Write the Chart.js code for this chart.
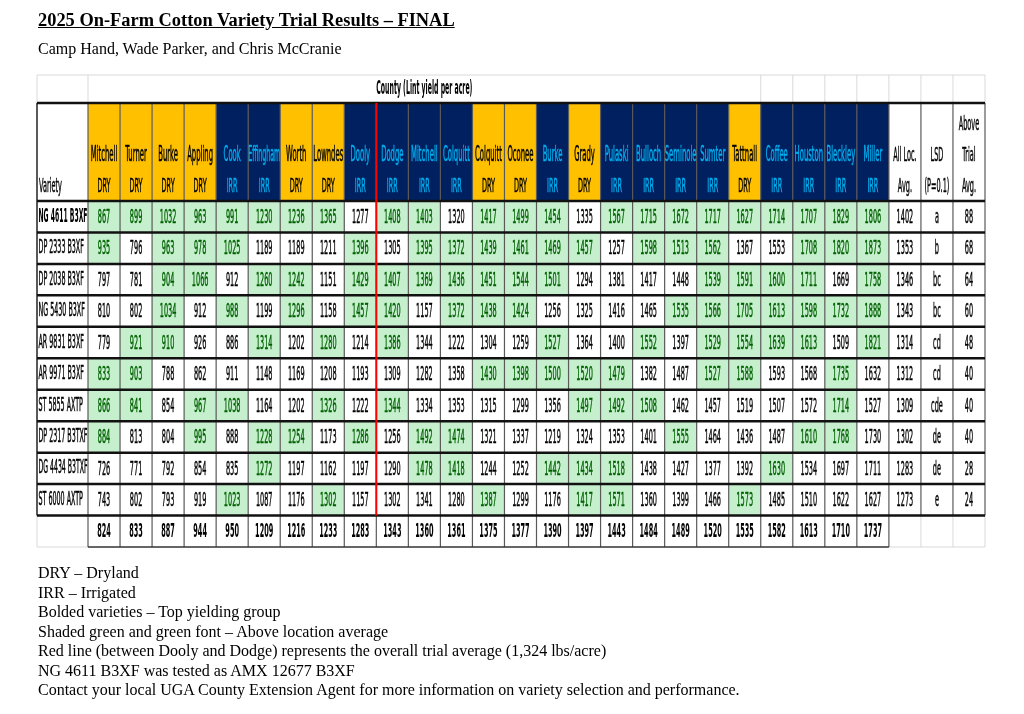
<!DOCTYPE html>
<html>
<head>
<meta charset="utf-8">
<script src="https://cdn.jsdelivr.net/npm/chart.js@4.4.0/dist/chart.umd.min.js"></script>
<style>
  body { margin: 0; background: #fff; }
  #wrap { position: absolute; left: 0; top: 0; width: 1024px; height: 714px; }
  .txt { position: absolute; left: 38px; font-family: 'Liberation Serif', 'Times New Roman', serif; color: #000; white-space: nowrap; }
  #title { top: 10px; font-size: 18.4px; font-weight: bold; text-decoration: underline; line-height: 1.15; }
  #sub { top: 40px; font-size: 16px; line-height: 1.15; }
  #notes { top: 563px; font-size: 16px; line-height: 19.5px; }
</style>
</head>
<body>
<div id="wrap"><canvas id="trialTable"></canvas></div>
<div class="txt" id="title">2025 On-Farm Cotton Variety Trial Results – FINAL</div>
<div class="txt" id="sub">Camp Hand, Wade Parker, and Chris McCranie</div>
<div class="txt" id="notes">
  DRY – Dryland<br>
  IRR – Irrigated<br>
  Bolded varieties – Top yielding group<br>
  Shaded green and green font – Above location average<br>
  Red line (between Dooly and Dodge) represents the overall trial average (1,324 lbs/acre)<br>
  NG 4611 B3XF was tested as AMX 12677 B3XF<br>
  Contact your local UGA County Extension Agent for more information on variety selection and performance.
</div>
<script>
// locations, in table order
const counties = ["Mitchell", "Turner", "Burke", "Appling", "Cook", "Effingham", "Worth", "Lowndes", "Dooly",
  "Dodge", "Mitchell", "Colquitt", "Colquitt", "Oconee", "Burke", "Grady", "Pulaski", "Bulloch", "Seminole",
  "Sumter", "Tattnall", "Coffee", "Houston", "Bleckley", "Miller"]
const water = ["DRY", "DRY", "DRY", "DRY", "IRR", "IRR", "DRY", "DRY", "IRR", "IRR", "IRR", "IRR", "DRY", "DRY",
  "IRR", "DRY", "IRR", "IRR", "IRR", "IRR", "DRY", "IRR", "IRR", "IRR", "IRR"]

const varieties = ["NG 4611 B3XF", "DP 2333 B3XF", "DP 2038 B3XF", "NG 5430 B3XF", "AR 9831 B3XF",
  "AR 9971 B3XF", "ST 5855 AXTP", "DP 2317 B3TXF", "DG 4434 B3TXF", "ST 6000 AXTP"]

// lint yield (lbs/acre), one row per variety
const yields = [
  [867, 899, 1032, 963, 991, 1230, 1236, 1365, 1277, 1408, 1403, 1320, 1417, 1499, 1454, 1335, 1567, 1715, 1672, 1717, 1627, 1714, 1707, 1829, 1806],
  [935, 796, 963, 978, 1025, 1189, 1189, 1211, 1396, 1305, 1395, 1372, 1439, 1461, 1469, 1457, 1257, 1598, 1513, 1562, 1367, 1553, 1708, 1820, 1873],
  [797, 781, 904, 1066, 912, 1260, 1242, 1151, 1429, 1407, 1369, 1436, 1451, 1544, 1501, 1294, 1381, 1417, 1448, 1539, 1591, 1600, 1711, 1669, 1758],
  [810, 802, 1034, 912, 988, 1199, 1296, 1158, 1457, 1420, 1157, 1372, 1438, 1424, 1256, 1325, 1416, 1465, 1535, 1566, 1705, 1613, 1598, 1732, 1888],
  [779, 921, 910, 926, 886, 1314, 1202, 1280, 1214, 1386, 1344, 1222, 1304, 1259, 1527, 1364, 1400, 1552, 1397, 1529, 1554, 1639, 1613, 1509, 1821],
  [833, 903, 788, 862, 911, 1148, 1169, 1208, 1193, 1309, 1282, 1358, 1430, 1398, 1500, 1520, 1479, 1382, 1487, 1527, 1588, 1593, 1568, 1735, 1632],
  [866, 841, 854, 967, 1038, 1164, 1202, 1326, 1222, 1344, 1334, 1353, 1315, 1299, 1356, 1497, 1492, 1508, 1462, 1457, 1519, 1507, 1572, 1714, 1527],
  [884, 813, 804, 995, 888, 1228, 1254, 1173, 1286, 1256, 1492, 1474, 1321, 1337, 1219, 1324, 1353, 1401, 1555, 1464, 1436, 1487, 1610, 1768, 1730],
  [726, 771, 792, 854, 835, 1272, 1197, 1162, 1197, 1290, 1478, 1418, 1244, 1252, 1442, 1434, 1518, 1438, 1427, 1377, 1392, 1630, 1534, 1697, 1711],
  [743, 802, 793, 919, 1023, 1087, 1176, 1302, 1157, 1302, 1341, 1280, 1387, 1299, 1176, 1417, 1571, 1360, 1399, 1466, 1573, 1485, 1510, 1622, 1627]
]

// 1 = shaded green in the report (above location average)
const aboveAvg = [
  [1, 1, 1, 1, 1, 1, 1, 1, 0, 1, 1, 0, 1, 1, 1, 0, 1, 1, 1, 1, 1, 1, 1, 1, 1],
  [1, 0, 1, 1, 1, 0, 0, 0, 1, 0, 1, 1, 1, 1, 1, 1, 0, 1, 1, 1, 0, 0, 1, 1, 1],
  [0, 0, 1, 1, 0, 1, 1, 0, 1, 1, 1, 1, 1, 1, 1, 0, 0, 0, 0, 1, 1, 1, 1, 0, 1],
  [0, 0, 1, 0, 1, 0, 1, 0, 1, 1, 0, 1, 1, 1, 0, 0, 0, 0, 1, 1, 1, 1, 1, 1, 1],
  [0, 1, 1, 0, 0, 1, 0, 1, 0, 1, 0, 0, 0, 0, 1, 0, 0, 1, 0, 1, 1, 1, 1, 0, 1],
  [1, 1, 0, 0, 0, 0, 0, 0, 0, 0, 0, 0, 1, 1, 1, 1, 1, 0, 0, 1, 1, 0, 0, 1, 0],
  [1, 1, 0, 1, 1, 0, 0, 1, 0, 1, 0, 0, 0, 0, 0, 1, 1, 1, 0, 0, 0, 0, 0, 1, 0],
  [1, 0, 0, 1, 0, 1, 1, 0, 1, 0, 1, 1, 0, 0, 0, 0, 0, 0, 1, 0, 0, 0, 1, 1, 0],
  [0, 0, 0, 0, 0, 1, 0, 0, 0, 0, 1, 1, 0, 0, 1, 1, 1, 0, 0, 0, 0, 1, 0, 0, 0],
  [0, 0, 0, 0, 1, 0, 0, 1, 0, 0, 0, 0, 1, 0, 0, 1, 1, 0, 0, 0, 1, 0, 0, 0, 0]
]

const allLocAvg = [1402, 1353, 1346, 1343, 1314, 1312, 1309, 1302, 1283, 1273]
const lsdGroup = ["a", "b", "bc", "bc", "cd", "cd", "cde", "de", "de", "e"]
const aboveTrialAvg = [88, 68, 64, 60, 48, 40, 40, 40, 28, 24]
const locationAvg = [824, 833, 887, 944, 950, 1209, 1216, 1233, 1283, 1343, 1360, 1361, 1375, 1377, 1390, 1397,
  1443, 1484, 1489, 1520, 1535, 1582, 1613, 1710, 1737]

const summaryHeads = [["All Loc.", "Avg."], ["LSD", "(P=0.1)"], ["Above", "Trial", "Avg."]]
const countyTitle = "County (Lint yield per acre)"

// layout bits (pixels), not data
const FONT = "'Liberation Sans Narrow', 'DejaVu Sans Condensed', 'Arial Narrow', sans-serif"
const VAR_W = 51
const HEAD_H = 98
const TOP_H = 28
const TITLE_SPAN = 21 // merged header cell over the first 21 locations
const VALUE_SIZE = 20

const DRY_FILL = "#FFC000", IRR_FILL = "#002060", IRR_TEXT = "#00B0F0"
const GOOD_FILL = "#C6EFCE", GOOD_TEXT = "#006100"

const columnKeys = counties.map((c, i) => c + " " + water[i]).concat(summaryHeads.map(h => h.join(" ")))
const rowKeys = varieties.concat(["Location average"])

// one point per table cell, placed by the category scales
const cells = []
varieties.forEach((v, r) => {
  yields[r].forEach((val, c) => {
    cells.push({ x: columnKeys[c], y: v, text: String(val), good: aboveAvg[r][c] === 1 })
  })
  cells.push({ x: columnKeys[25], y: v, text: String(allLocAvg[r]) })
  cells.push({ x: columnKeys[26], y: v, text: lsdGroup[r] })
  cells.push({ x: columnKeys[27], y: v, text: String(aboveTrialAvg[r]) })
})
locationAvg.forEach((val, c) => {
  cells.push({ x: columnKeys[c], y: rowKeys[10], text: String(val), bold: true })
})

let squeeze = null

// condensed text, like the narrow spreadsheet font in the report
const narrowText = (ctx, text, px, py, size, opts = {}) => {
  if (squeeze === null) {
    ctx.save()
    ctx.font = VALUE_SIZE + "px " + FONT
    squeeze = 16.6 / ctx.measureText("0000").width
    ctx.restore()
  }
  ctx.save()
  ctx.font = (opts.bold ? "bold " : "") + size + "px " + FONT
  ctx.fillStyle = opts.color || "#000"
  ctx.strokeStyle = opts.color || "#000"
  ctx.textBaseline = "middle"
  ctx.textAlign = opts.align || "center"
  let k = squeeze
  if (opts.maxWidth) {
    const w = ctx.measureText(text).width * k
    if (w > opts.maxWidth) k *= opts.maxWidth / w
  }
  ctx.translate(px, py)
  ctx.scale(k, 1)
  ctx.fillText(text, 0, 0)
  if (!opts.bold) {
    ctx.lineWidth = 0.5
    ctx.strokeText(text, 0, 0)
  }
  ctx.restore()
}

const line = (ctx, x1, y1, x2, y2, color, width) => {
  ctx.beginPath()
  ctx.strokeStyle = color
  ctx.lineWidth = width
  ctx.moveTo(x1, y1)
  ctx.lineTo(x2, y2)
  ctx.stroke()
}

const tablePlugin = {
  id: "trialTable",
  afterDatasetsDraw(chart) {
    const { ctx } = chart
    const { x, y } = chart.scales
    const nCols = x.getLabels().length
    const nRows = y.getLabels().length
    const colW = x.getPixelForValue(1) - x.getPixelForValue(0)
    const rowH = y.getPixelForValue(1) - y.getPixelForValue(0)
    const colEdge = i => x.getPixelForValue(i - 0.5)
    const rowEdge = j => y.getPixelForValue(j - 0.5)
    const nLoc = counties.length
    const nVar = varieties.length

    const left0 = colEdge(0) - VAR_W
    const right0 = colEdge(nCols)
    const headTop = rowEdge(0) - HEAD_H
    const topRow = headTop - TOP_H
    const meta = chart.getDatasetMeta(0)

    // header fills
    for (let c = 0; c < nLoc; c++) {
      ctx.fillStyle = water[c] === "DRY" ? DRY_FILL : IRR_FILL
      ctx.fillRect(colEdge(c), headTop, colW, HEAD_H)
    }

    // green cells
    meta.data.forEach((el, i) => {
      if (cells[i].good) {
        ctx.fillStyle = GOOD_FILL
        ctx.fillRect(el.x - colW / 2, el.y - rowH / 2, colW, rowH)
      }
    })

    // faint sheet gridlines
    const faint = "#d9d9d9"
    line(ctx, left0, topRow, right0, topRow, faint, 1)
    line(ctx, left0, topRow, left0, headTop, faint, 1)
    line(ctx, colEdge(0), topRow, colEdge(0), headTop, faint, 1)
    for (let c = TITLE_SPAN; c <= nCols; c++) line(ctx, colEdge(c), topRow, colEdge(c), headTop, faint, 1)
    line(ctx, left0, rowEdge(nVar), left0, rowEdge(nRows), faint, 1)
    line(ctx, left0, rowEdge(nRows), colEdge(0), rowEdge(nRows), faint, 1)
    for (let c = nLoc + 1; c <= nCols; c++) line(ctx, colEdge(c), rowEdge(nVar), colEdge(c), rowEdge(nRows), faint, 1)
    line(ctx, colEdge(nLoc), rowEdge(nRows), right0, rowEdge(nRows), faint, 1)

    // vertical cell borders
    const grey = "#5a5a5a"
    line(ctx, left0, headTop, left0, rowEdge(nVar), "#222", 1.5)
    for (let c = 0; c <= nLoc; c++) line(ctx, colEdge(c), headTop, colEdge(c), rowEdge(nRows), grey, 1.2)
    for (let c = nLoc + 1; c <= nCols; c++) line(ctx, colEdge(c), headTop, colEdge(c), rowEdge(nVar), grey, 1.2)

    // horizontal row borders
    line(ctx, left0, headTop, right0, headTop, "#111", 2.5)
    for (let r = 0; r <= nVar; r++) line(ctx, left0, rowEdge(r), right0, rowEdge(r), "#111", 2.5)
    line(ctx, colEdge(0), rowEdge(nRows), colEdge(nLoc), rowEdge(nRows), "#333", 1.5)

    // overall trial average marker
    const redAt = counties.indexOf("Dodge")
    line(ctx, colEdge(redAt), headTop, colEdge(redAt), rowEdge(nVar), "#FF0000", 2)

    // header text
    narrowText(ctx, countyTitle, (colEdge(0) + colEdge(TITLE_SPAN)) / 2, topRow + 14, 19, { bold: true })
    narrowText(ctx, "Variety", left0 + 2, headTop + 84, 20, { align: "left" })
    for (let c = 0; c < nLoc; c++) {
      const color = water[c] === "DRY" ? "#000" : IRR_TEXT
      const cx = x.getPixelForValue(c)
      narrowText(ctx, counties[c], cx, headTop + 53, 21, { color, maxWidth: colW })
      narrowText(ctx, water[c], cx, headTop + 84, 20, { color })
    }
    summaryHeads.forEach((lines, k) => {
      const cx = x.getPixelForValue(nLoc + k)
      lines.forEach((t, j) => {
        narrowText(ctx, t, cx, headTop + 84 - 31 * (lines.length - 1 - j), 20, { maxWidth: colW - 2 })
      })
    })

    // variety names
    varieties.forEach((v, r) => {
      const top = lsdGroup[r].includes("a")
      narrowText(ctx, v, left0 + 1.5, y.getPixelForValue(r), 19.5, { align: "left", bold: top, maxWidth: VAR_W - 2 })
    })

    // cell values
    meta.data.forEach((el, i) => {
      const cell = cells[i]
      narrowText(ctx, cell.text, el.x, el.y + 1, VALUE_SIZE, {
        color: cell.good ? GOOD_TEXT : "#000",
        bold: cell.bold
      })
    })
  }
}

const canvas = document.getElementById("trialTable")

new Chart(canvas.getContext("2d"), {
  type: "scatter",
  data: {
    datasets: [
      {
        label: "Lint yield per acre",
        data: cells,
        pointRadius: 0,
        pointHoverRadius: 0,
      },
    ],
  },
  options: {
    responsive: true,
    maintainAspectRatio: false,
    animation: false,
    events: [],
    layout: {
      padding: { left: 88, right: 39, top: 201, bottom: 167 }
    },
    scales: {
      x: { type: "category", labels: columnKeys, offset: true, display: false },
      y: { type: "category", labels: rowKeys, offset: true, display: false }
    },
    plugins: {
      legend: { display: false },
      tooltip: { enabled: false }
    }
  },
  plugins: [tablePlugin]
})
</script>
</body>
</html>
